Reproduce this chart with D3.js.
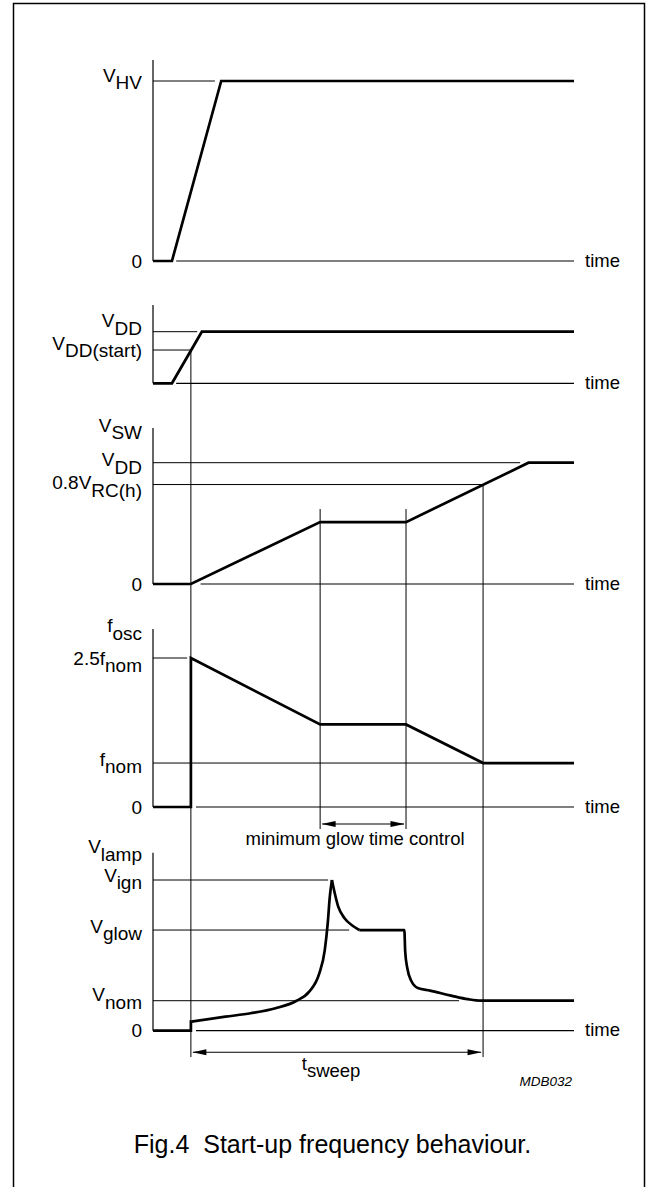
<!DOCTYPE html>
<html>
<head>
<meta charset="utf-8">
<script src="https://cdn.jsdelivr.net/npm/d3@7"></script>
<style>
  html, body { margin: 0; padding: 0; background: #fff; }
  svg { display: block; }
  text { font-family: "Liberation Sans", Arial, Helvetica, sans-serif; fill: #000; }
</style>
</head>
<body>
<div id="chart"></div>
<script>
// ---------------- DATA (time in arbitrary units 0..100, levels normalised per panel) -------------
const timeDomain = [0, 100];

// Panel 1: V_HV
const hvTime  = [0, 4.5, 16.2, 100];
const hvValue = [0, 0, 1, 1];

// Panel 2: V_DD
const vddTime  = [0, 4.5, 11.6, 100];
const vddValue = [0, 0, 1, 1];

// Panel 3: V_SW
const vswTime  = [0, 9, 39.7, 60.1, 89.2, 100];
const vswValue = [0, 0, 0.51, 0.51, 1, 1];

// Panel 4: f_osc
const foscTime  = [0, 9, 9, 39.7, 60.1, 78.4, 100];
const foscValue = [0, 0, 1, 0.554, 0.554, 0.295, 0.295];

// Panel 5: V_lamp
const lampStepTime  = [0, 9, 9, 9.1];
const lampStepValue = [0, 0, 0.06, 0.06];
const lampRiseTime  = [9.1, 17.2, 23.2, 29.1, 34.1, 37.1, 39.5, 40.8, 41.5, 42.0, 42.5];
const lampRiseValue = [0.06, 0.093, 0.116, 0.149, 0.199, 0.259, 0.38, 0.535, 0.712, 0.889, 1.0];
const lampDecayTime  = [42.5, 43.0, 44.0, 45.5, 47.5, 49.0];
const lampDecayValue = [1.0, 0.934, 0.823, 0.746, 0.695, 0.668];
const lampTailTime  = [49.0, 59.7, 59.9, 60.4, 61.4, 62.9, 65.8, 70.8, 74.8, 77.8, 100];
const lampTailValue = [0.668, 0.668, 0.527, 0.416, 0.328, 0.283, 0.266, 0.233, 0.209, 0.199, 0.199];

// Reference levels: [value, main label, subscript, guide end time]
const p1Levels = [[1, "V", "HV", 14.7]];
const p2Levels = [[1, "V", "DD", 10.5], [0.645, "V", "DD(start)", 9]];
const p3Levels = [[1, "V", "DD", 87.2], [0.82, "0.8V", "RC(h)", 78.4]];
const p4Levels = [[1, "2.5f", "nom", 8.1], [0.295, "f", "nom", 78.4]];
const p5Levels = [[1, "V", "ign", 41.6], [0.668, "V", "glow", 46.6], [0.199, "V", "nom", 72.7]];

// Event times
const tStart = 9, tGlowStart = 39.7, tGlowEnd = 60.1, tSweepEnd = 78.4;

// Text
const timeLabel = "time";
const zeroLabel = "0";
const glowText = "minimum glow time control";
const sweepMain = "t", sweepSub = "sweep";
const codeText = "MDB032";
const captionText = "Fig.4  Start-up frequency behaviour.";

// ---------------- LAYOUT ----------------
const W = 655, H = 1187;
const svg = d3.select("#chart").append("svg").attr("width", W).attr("height", H);

svg.append("rect").attr("x", 13.5).attr("y", 3.5).attr("width", 631).attr("height", 1210)
  .attr("fill", "none").attr("stroke", "#000").attr("stroke-width", 1.5);

const x = d3.scaleLinear().domain(timeDomain).range([153, 574]);

// subscript-baseline offset (px below the level line) for each label, per panel
const labelOffsets = [
  { "HV": 8 },
  { "DD": 3, "DD(start)": 7 },
  { "SW": 11, "DD": 11, "RC(h)": 12 },
  { "osc": 11, "nom@1": 14, "nom": 10 },
  { "lamp": 8, "ign": 9, "glow": 10, "nom": 8 }
];

const panels = [
  { y0: 261,   y1: 81,  top: 1.117, levels: p1Levels, zero: true,  axisStart: 5.5,  title: null,
    series: [[hvTime, hvValue]] },
  { y0: 383.3, y1: 331.7, top: 1.517, levels: p2Levels, zero: false, axisStart: 5.5, title: null,
    series: [[vddTime, vddValue]] },
  { y0: 584,   y1: 462.7, top: 1.286, levels: p3Levels, zero: true, axisStart: 11.3, title: ["V", "SW"],
    series: [[vswTime, vswValue]] },
  { y0: 807,   y1: 658, top: 1.195, levels: p4Levels, zero: true, axisStart: 10.2, title: ["f", "osc"],
    series: [[foscTime, foscValue]] },
  { y0: 1030.7, y1: 880, top: 1.181, levels: p5Levels, zero: true, axisStart: 10.2, title: ["V", "lamp"],
    series: [[lampStepTime, lampStepValue, "linear"], [lampRiseTime, lampRiseValue, "mono"],
             [lampDecayTime, lampDecayValue, "mono"], [lampTailTime, lampTailValue, "mono"]] }
];
panels.forEach(p => { p.y = d3.scaleLinear().domain([0, 1]).range([p.y0, p.y1]); });

const FS = 18.5;
const LFS = 19;
const SUBDY = 7.5;
const labelX = 142;

// yPos = baseline of the subscript
function subLabel(g, xPos, yPos, main, sub, anchor, fs) {
  const t = g.append("text").attr("x", xPos).attr("y", yPos - SUBDY)
    .attr("text-anchor", anchor || "end").attr("font-size", fs || LFS);
  t.append("tspan").text(main);
  t.append("tspan").attr("dy", SUBDY).text(sub);
  return t;
}

const thin = 1, thick = 2.7;

panels.forEach((p, pi) => {
  const g = svg.append("g");
  const offs = labelOffsets[pi];
  // vertical axis
  g.append("line").attr("x1", x(0)).attr("x2", x(0))
    .attr("y1", p.y(0)).attr("y2", p.y(p.top))
    .attr("stroke", "#000").attr("stroke-width", 1.2);
  // time axis
  g.append("line").attr("x1", x(p.axisStart)).attr("x2", x(100))
    .attr("y1", p.y(0)).attr("y2", p.y(0))
    .attr("stroke", "#000").attr("stroke-width", 1.2);
  g.append("text").attr("x", 585).attr("y", p.y(0) + 5.5).attr("font-size", FS).text(timeLabel);
  if (p.zero) {
    g.append("text").attr("x", labelX).attr("y", p.y(0) + 6.5).attr("text-anchor", "end")
      .attr("font-size", LFS).text(zeroLabel);
  }
  // reference levels
  p.levels.forEach(([v, main, sub, endT]) => {
    g.append("line").attr("x1", x(0)).attr("x2", x(endT))
      .attr("y1", p.y(v)).attr("y2", p.y(v))
      .attr("stroke", "#000").attr("stroke-width", thin);
    const key = (sub + "@" + v) in offs ? sub + "@" + v : sub;
    subLabel(g, labelX, p.y(v) + offs[key], main, sub);
  });
  if (p.title) subLabel(g, labelX, p.y(p.top) + offs[p.title[1]], p.title[0], p.title[1]);
  // series
  p.series.forEach(([ts, vs, kind]) => {
    const pts = ts.map((t, i) => [t, vs[i]]);
    const line = d3.line().x(d => x(d[0])).y(d => p.y(d[1]))
      .curve(kind === "mono" ? d3.curveMonotoneX : d3.curveLinear);
    g.append("path").attr("d", line(pts)).attr("fill", "none")
      .attr("stroke", "#000").attr("stroke-width", thick).attr("stroke-linejoin", "miter");
  });
});

const [P1, P2, P3, P4, P5] = panels;

// vertical event guides
const guides = [
  [tStart, P2.y(0.645), P5.y(-0.175)],
  [tGlowStart, P3.y(0.618), P4.y(-0.148)],
  [tGlowEnd, P3.y(0.618), P4.y(-0.148)],
  [tSweepEnd, P3.y(0.82), P5.y(-0.175)]
];
guides.forEach(([t, ya, yb]) => {
  svg.append("line").attr("x1", x(t)).attr("x2", x(t)).attr("y1", ya).attr("y2", yb)
    .attr("stroke", "#000").attr("stroke-width", thin);
});

// double arrows
function dblArrow(t1, t2, yPos) {
  const x1 = x(t1), x2 = x(t2), L = 14, hw = 3;
  svg.append("line").attr("x1", x1 + 2).attr("x2", x2 - 2).attr("y1", yPos).attr("y2", yPos)
    .attr("stroke", "#000").attr("stroke-width", 1.2);
  svg.append("path").attr("d", `M${x1 + 1.5},${yPos} L${x1 + 1.5 + L},${yPos - hw} L${x1 + 1.5 + L},${yPos + hw} Z`).attr("fill", "#000");
  svg.append("path").attr("d", `M${x2 - 1.5},${yPos} L${x2 - 1.5 - L},${yPos - hw} L${x2 - 1.5 - L},${yPos + hw} Z`).attr("fill", "#000");
}
dblArrow(tGlowStart, tGlowEnd, P4.y(-0.114));
dblArrow(tStart, tSweepEnd, P5.y(-0.143));

svg.append("text").attr("x", x(48)).attr("y", 845).attr("text-anchor", "middle")
  .attr("font-size", FS).text(glowText);

subLabel(svg, x(42.3), 1077, sweepMain, sweepSub, "middle", FS);

svg.append("text").attr("x", 572).attr("y", 1085.5).attr("text-anchor", "end")
  .attr("font-size", 13.5).attr("font-style", "italic").text(codeText);

svg.append("text").attr("x", 332.5).attr("y", 1153).attr("text-anchor", "middle")
  .attr("font-size", 25).style("white-space", "pre").text(captionText);
</script>
</body>
</html>
